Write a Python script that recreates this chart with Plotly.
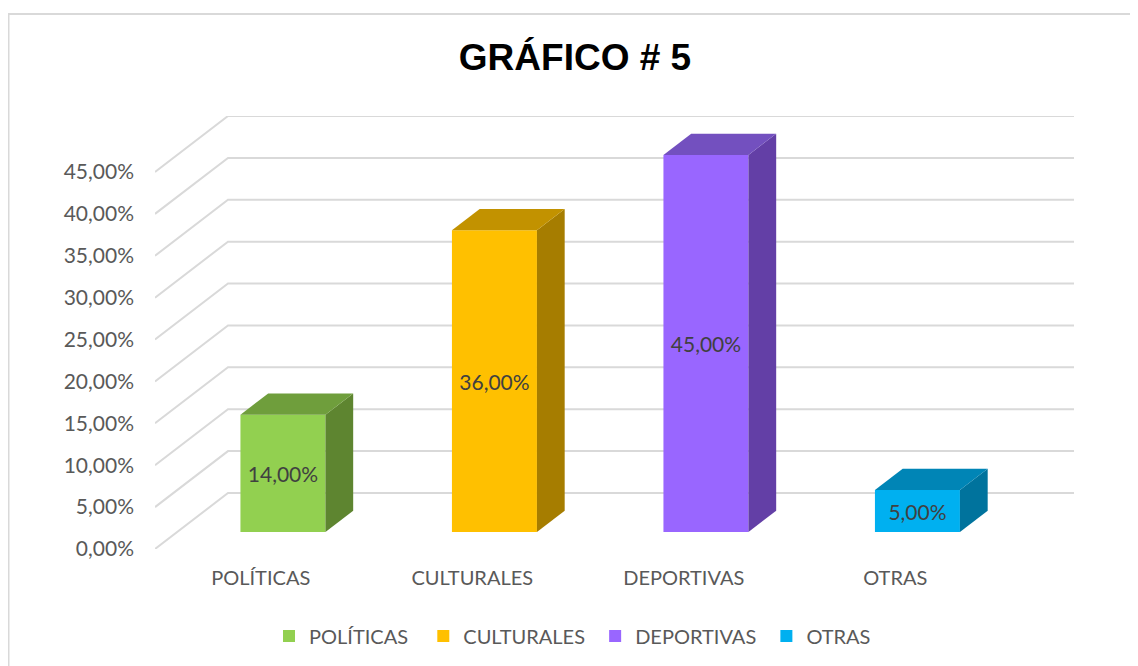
import plotly.graph_objects as go

categories = ['POLÍTICAS', 'CULTURALES', 'DEPORTIVAS', 'OTRAS']
values = [0.14, 0.36, 0.45, 0.05]
y_ticks = [0, 0.05, 0.10, 0.15, 0.20, 0.25, 0.30, 0.35, 0.40, 0.45]

front_colors = ['#92D050', '#FFC000', '#9966FF', '#00B0F0']
side_colors = ['#5E8530', '#A67D00', '#633FA6', '#00739D']
top_colors = ['#6F9E3C', '#C29200', '#7350BF', '#0085B6']

# plotly has no gap setting for a horizontal legend, so pad the names a bit
legend_pad = [2, 1, 1, 0]

GRID = '#D9D9D9'
FONT = 'Lato'

# pretend 3d: how far the back wall sits from the front plane, in axis units
WALL_X = 73 / 211.5
WALL_Y = 56 / 837.8
BAR_W = 85 / 211.5
BAR_NEAR = 0.304
BAR_DEPTH = 0.38

x_min = -0.5
x_max = 3.5

fig = go.Figure()

for i, cat in enumerate(categories):
    left = i + BAR_NEAR * WALL_X - BAR_W / 2
    right = left + BAR_W
    floor = BAR_NEAR * WALL_Y
    top = floor + values[i]
    dx = BAR_DEPTH * WALL_X
    dy = BAR_DEPTH * WALL_Y

    fig.add_trace(go.Bar(x=[i + BAR_NEAR * WALL_X], y=[values[i]], base=[floor], width=BAR_W,
                         name=cat + '\u00a0' * legend_pad[i], legendgroup=cat,
                         marker=dict(color=front_colors[i], line=dict(width=0)),
                         texttemplate='%{y:.2%}', textposition='inside', insidetextanchor='middle',
                         textangle=0, constraintext='none',
                         insidetextfont=dict(family=FONT, size=21, color='#404040')))
    fig.add_trace(go.Scatter(x=[right, right, right + dx, right + dx, right],
                             y=[floor, top, top + dy, floor + dy, floor],
                             mode='lines', fill='toself', fillcolor=side_colors[i],
                             line=dict(width=0), showlegend=False, legendgroup=cat))
    fig.add_trace(go.Scatter(x=[left, right, right + dx, left + dx, left],
                             y=[top, top, top + dy, top + dy, top],
                             mode='lines', fill='toself', fillcolor=top_colors[i],
                             line=dict(width=0), showlegend=False, legendgroup=cat))

# side wall + back wall lines
shapes = []
for t in y_ticks:
    shapes.append(dict(type='path', layer='below',
                       path=f'M {x_min},{t} L {x_min + WALL_X},{t + WALL_Y} L {x_max + WALL_X},{t + WALL_Y}',
                       line=dict(color=GRID, width=2)))

# outer chart frame, the page's 8px body margin is taken off the figure size
shapes.append(dict(type='path', layer='below', xref='paper', yref='paper',
                   path='M -0.1594,-0.27 L -0.1594,1.2356 L 1.07,1.2356',
                   line=dict(color=GRID, width=2)))

layout = go.Layout(
    width=1130,
    height=658,
    autosize=False,
    margin=dict(l=147, r=64, t=108, b=117, autoexpand=False),
    paper_bgcolor='white',
    plot_bgcolor='rgba(0,0,0,0)',
    separators=',.',
    barmode='overlay',
    title=dict(text='<b>GRÁFICO # 5</b>', x=567 / 1130, xanchor='center', y=1 - 49 / 658, yanchor='middle',
               font=dict(family='Liberation Sans', size=37, color='black')),
    xaxis=dict(range=[x_min, x_max + WALL_X], tickvals=[0, 1, 2, 3], ticktext=categories,
               showgrid=False, zeroline=False, showline=False, ticks='', ticklabelstandoff=15,
               tickfont=dict(family=FONT, size=20, color='#595959')),
    yaxis=dict(range=[0, 433 / 837.8], tickvals=y_ticks, tickformat='.2%',
               showgrid=False, zeroline=False, showline=False, ticks='', ticklabelstandoff=20,
               tickfont=dict(family=FONT, size=21, color='#595959')),
    showlegend=True,
    legend=dict(orientation='h', xanchor='left', yanchor='middle', x=(269 - 155) / 919, y=(549 - 636) / 433,
                font=dict(family=FONT, size=20, color='#595959')),
    shapes=shapes,
)
fig.update_layout(layout)

fig.write_html('out.html')
